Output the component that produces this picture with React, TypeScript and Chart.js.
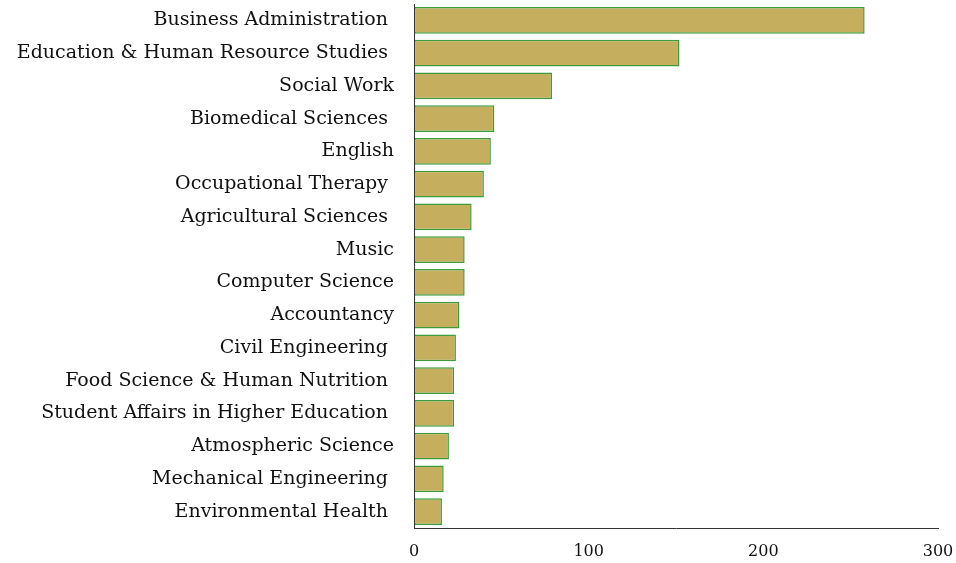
import React, { useEffect, useRef } from "react";
import { Chart, registerables } from "chart.js";

Chart.register(...registerables);

const categories = [
  "Business Administration ",
  "Education & Human Resource Studies ",
  "Social Work",
  "Biomedical Sciences ",
  "English",
  "Occupational Therapy ",
  "Agricultural Sciences ",
  "Music",
  "Computer Science",
  "Accountancy",
  "Civil Engineering ",
  "Food Science & Human Nutrition ",
  "Student Affairs in Higher Education ",
  "Atmospheric Science",
  "Mechanical Engineering ",
  "Environmental Health ",
];

const values = [258, 152, 79, 46, 44, 40, 33, 29, 29, 26, 24, 23, 23, 20, 17, 16];

const xTicks = [0, 100, 200, 300];

const FONT = "'DejaVu Serif', 'Liberation Serif', serif";

export default function App() {
  const ref = useRef<HTMLCanvasElement | null>(null);

  useEffect(() => {
    if (!ref.current) return;
    const chart = new Chart(ref.current, {
      type: "bar",
      data: {
        labels: categories,
        datasets: [
          {
            data: values,
            backgroundColor: "#C5AF5F",
            borderColor: "#3C9C3C",
            borderWidth: 1.5,
            borderSkipped: false,
            categoryPercentage: 0.81,
            barPercentage: 1,
          },
        ],
      },
      options: {
        indexAxis: "y",
        animation: false,
        responsive: true,
        maintainAspectRatio: false,
        layout: { padding: { top: 4, right: 18, left: 0, bottom: 0 } },
        plugins: {
          legend: { display: false },
          tooltip: { enabled: false },
        },
        scales: {
          x: {
            min: 0,
            max: 300,
            afterFit: (scale: any) => {
              scale.height = 35;
              scale.paddingLeft = 0;
              scale.paddingRight = 0;
            },
            afterBuildTicks: (scale: any) => {
              scale.ticks = xTicks.map((v) => ({ value: v }));
            },
            grid: { display: false, drawTicks: false },
            border: { display: true, color: "#333333", width: 1 },
            ticks: {
              padding: 14,
              color: "#111111",
              font: { family: FONT, size: 16 },
              maxRotation: 0,
            },
          },
          y: {
            afterFit: (scale: any) => {
              scale.width = 414;
              scale.paddingTop = 0;
              scale.paddingBottom = 0;
            },
            grid: { display: false, drawTicks: false },
            border: { display: true, color: "#333333", width: 1, z: 1 },
            ticks: {
              padding: 20,
              color: "#111111",
              font: { family: FONT, size: 19 },
              autoSkip: false,
            },
          },
        },
      },
    });
    return () => chart.destroy();
  }, []);

  return (
    <div style={{ position: "absolute", left: 0, top: 0, width: 956, height: 563, background: "#fff" }}>
      <canvas ref={ref} />
    </div>
  );
}
